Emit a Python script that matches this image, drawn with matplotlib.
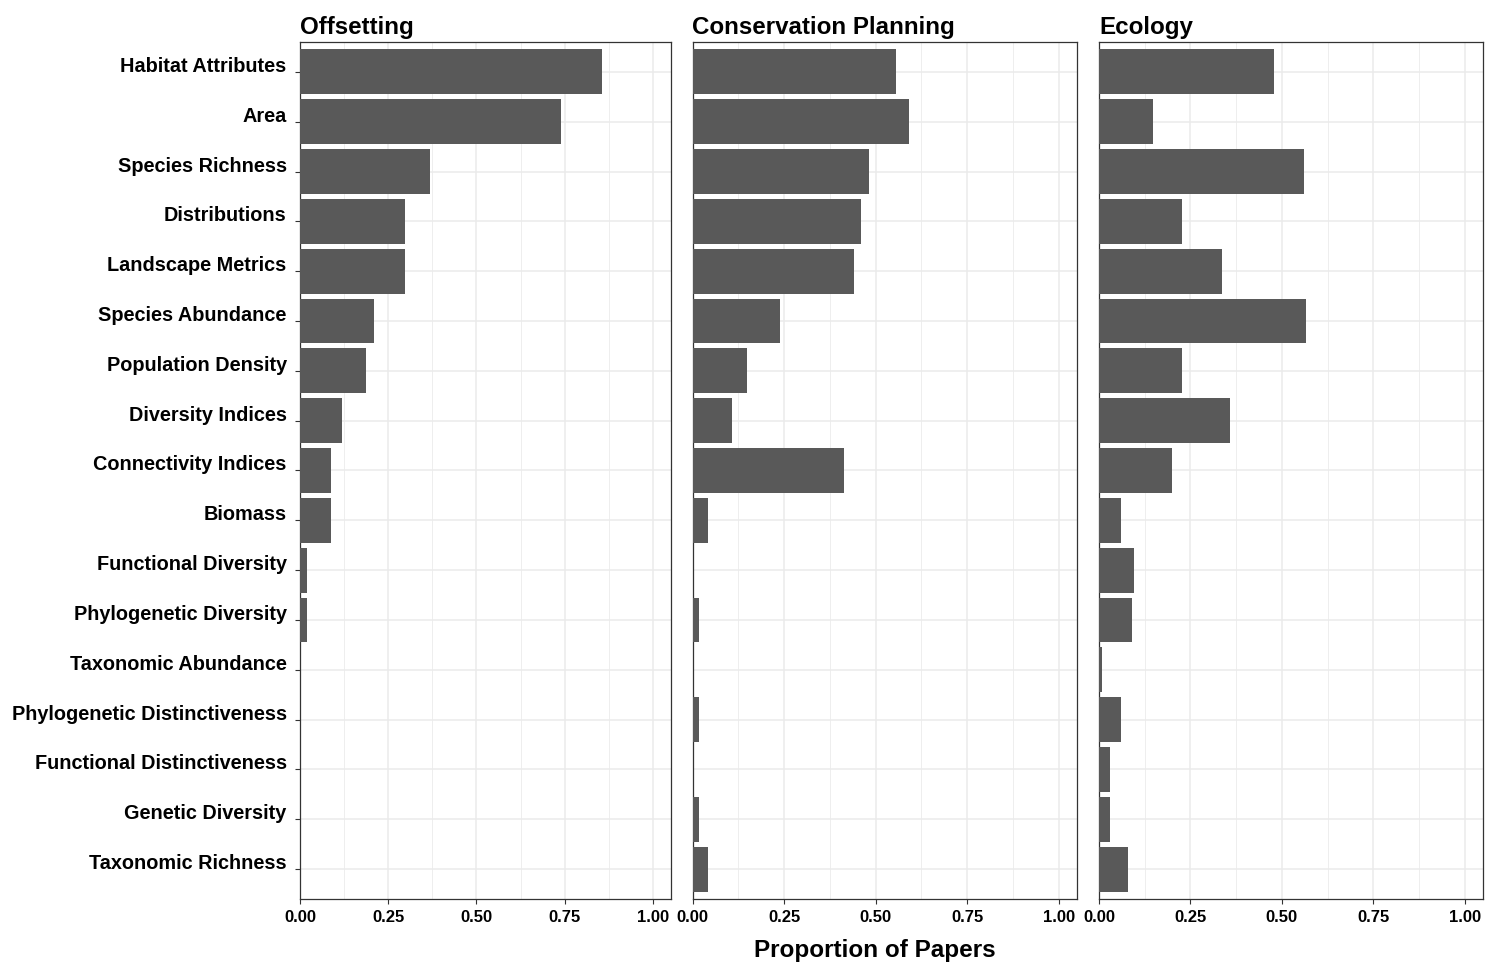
import numpy as np
import matplotlib
matplotlib.use('Agg')
from matplotlib import pyplot as plt

plt.rcParams['font.family'] = ['Liberation Sans', 'DejaVu Sans']

metrics = ['Habitat Attributes', 'Area', 'Species Richness', 'Distributions',
           'Landscape Metrics', 'Species Abundance', 'Population Density',
           'Diversity Indices', 'Connectivity Indices', 'Biomass',
           'Functional Diversity', 'Phylogenetic Diversity', 'Taxonomic Abundance',
           'Phylogenetic Distinctiveness', 'Functional Distinctiveness',
           'Genetic Diversity', 'Taxonomic Richness']

offsetting = [0.857, 0.741, 0.369, 0.298, 0.298, 0.21, 0.188, 0.119, 0.088, 0.088,
              0.02, 0.02, 0.0, 0.0, 0.0, 0.0, 0.0]
conservation = [0.557, 0.590, 0.481, 0.459, 0.44, 0.24, 0.15, 0.109, 0.413, 0.041,
                0.0, 0.019, 0.0, 0.019, 0.0, 0.019, 0.041]
ecology = [0.478, 0.148, 0.56, 0.227, 0.336, 0.566, 0.227, 0.358, 0.2, 0.06,
           0.097, 0.09, 0.009, 0.06, 0.029, 0.029, 0.08]

titles = ['Offsetting', 'Conservation Planning', 'Ecology']
xticks = [0.0, 0.25, 0.5, 0.75, 1.0]
xticklabels = ['0.00', '0.25', '0.50', '0.75', '1.00']

W, H = 1498, 967
fig = plt.figure(figsize=(W/100, H/100), dpi=100)

# panel extents in pixels (left, right)
panels = [(300, 670.5), (692.5, 1077), (1099, 1483)]
top, bottom = 42, 899

ypos = np.arange(len(metrics))
for k, (vals, title, (x0, x1)) in enumerate(zip([offsetting, conservation, ecology], titles, panels)):
    ax = fig.add_axes([x0/W, 1-bottom/H, (x1-x0)/W, (bottom-top)/H])
    ax.barh(ypos, vals, height=0.9, color='#595959', zorder=3)
    ax.set_xlim(0, 1.05)
    ax.set_ylim(len(metrics)-0.4, -0.6)
    ax.set_xticks(xticks)
    ax.set_xticklabels(xticklabels, fontsize=12, fontweight='bold')
    ax.set_xticks([0.125, 0.375, 0.625, 0.875], minor=True)
    ax.set_yticks(ypos)
    ax.grid(True, which='major', color='#EBEBEB', linewidth=1.1, zorder=0)
    ax.grid(True, which='minor', axis='x', color='#EBEBEB', linewidth=0.6, zorder=0)
    ax.tick_params(axis='both', which='major', color='#333333', width=0.8, length=3.6, pad=4)
    ax.tick_params(axis='x', which='minor', length=0)
    if k == 0:
        ax.set_yticklabels(metrics, fontsize=14.3, fontweight='bold', va='baseline')
        ax.tick_params(axis='y', which='major', pad=6)
    else:
        ax.set_yticklabels([])
        ax.tick_params(axis='y', which='major', length=0)
    for s in ax.spines.values():
        s.set_color('#333333')
        s.set_linewidth(0.9)
    ax.set_title(title, loc='left', fontsize=17.4, fontweight='bold', pad=6)

fig.text(875/W, 1-951/H, 'Proportion of Papers', ha='center', va='center',
         fontsize=17.5, fontweight='bold')

fig.savefig('out.png', dpi=100)
